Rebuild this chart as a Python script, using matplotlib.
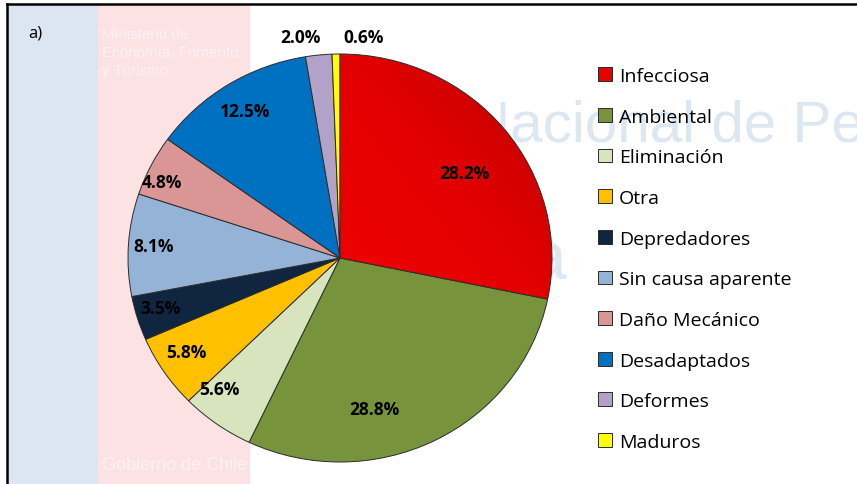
import numpy as np
import matplotlib
matplotlib.use('Agg')
import matplotlib.pyplot as plt
from matplotlib.lines import Line2D
from matplotlib.patches import Rectangle
from matplotlib.colors import LinearSegmentedColormap

# Datos del gráfico
causas = ['Infecciosa', 'Ambiental', 'Eliminación', 'Otra', 'Depredadores',
          'Sin causa aparente', 'Daño Mecánico', 'Desadaptados', 'Deformes', 'Maduros']
porcentajes = [28.2, 28.8, 5.6, 5.8, 3.5, 8.1, 4.8, 12.5, 2.0, 0.6]
colores = ['#E60000', '#77933C', '#D7E4BD', '#FFC000', '#10253F',
           '#95B3D7', '#D99694', '#0070C0', '#B3A2C7', '#FFFF00']

# Posición de las etiquetas (distancia radial y desplazamiento angular)
dist_etiq = [0.72, 0.76, 0.86, 0.86, 0.88, 0.88, 0.92, 0.85, 1.10, 1.09]
desp_etiq = [-4, -14, -6, -1.5, -1, 0, 3, 0, 4, -7]

W, H = 857, 485
fig = plt.figure(figsize=(W / 100, H / 100), dpi=100)

# Fondo (marca de agua)
bg = fig.add_axes([0, 0, 1, 1])
bg.set_xlim(0, W)
bg.set_ylim(H, 0)
bg.axis('off')
bg.add_patch(Rectangle((8, 6), 90, H, color='#DCE6F2', lw=0))
bg.add_patch(Rectangle((98, 6), 152, H, color='#FDE2E3', lw=0))
bg.text(102, 28, 'Ministerio de\nEconomía, Fomento\ny Turismo', fontsize=11, color='#FFF1F1',
        va='top', ha='left', family='Liberation Sans', linespacing=1.35)
bg.text(102, 466, 'Gobierno de Chile', fontsize=13, color='#FFF1F1', va='center', ha='left',
        family='Liberation Sans')
bg.text(468, 126, 'Nacional de Pesca', fontsize=42, color='#DCE7F2', va='center', ha='left',
        family='Liberation Sans')
bg.text(528, 262, 'a', fontsize=50, color='#DCE7F2', va='center', ha='left',
        family='Liberation Sans')
bg.text(28, 33, 'a)', fontsize=12, va='center', ha='left', family='Open Sans')
fig.add_artist(Line2D([7 / W, 1], [1 - 5 / H, 1 - 5 / H], color='black', lw=1.8))
fig.add_artist(Line2D([7 / W, 7 / W], [0, 1 - 5 / H], color='black', lw=1.8))

# Gráfico de torta
cx, cy, rx, ry = 340, 259, 212, 204
ax = fig.add_axes([(cx - rx) / W, (H - cy - ry) / H, 2 * rx / W, 2 * ry / H])
wedges, _, autotexts = ax.pie(porcentajes, colors=colores, startangle=90, counterclock=False,
                              autopct='%1.1f%%', pctdistance=0.8,
                              wedgeprops=dict(edgecolor='#2b2b2b', linewidth=0.7))
ax.set_aspect('auto')

for w, t, v, r, d in zip(wedges, autotexts, porcentajes, dist_etiq, desp_etiq):
    ang = np.deg2rad((w.theta1 + w.theta2) / 2 + d)
    t.set_position((r * np.cos(ang), r * np.sin(ang)))
    t.set_text(f'{v:.1f}%')
    t.set_fontsize(12.5)
    t.set_fontweight('bold')
    t.set_family('Open Sans')
    t.set_color('black')

leg = fig.legend(wedges, causas, loc='upper left', bbox_to_anchor=(598 / W, 1 - 68 / H),
                 frameon=False, prop={'family': 'Open Sans', 'size': 14},
                 handlelength=0.72, handleheight=0.72, handletextpad=0.35,
                 labelspacing=1.165, borderpad=0, borderaxespad=0)

# Degradado en la porción roja (más oscuro arriba a la derecha)
gx, gy = np.meshgrid(np.linspace(0, 1, 200), np.linspace(0, 1, 200))
grad = (gx + gy) / 2
cmap_rojo = LinearSegmentedColormap.from_list('rojo', ['#F20000', '#E40000', '#B80000'])
img = ax.imshow(grad, cmap=cmap_rojo, extent=(-0.05, 1.05, -0.35, 1.05), origin='lower',
                zorder=wedges[0].get_zorder() + 0.1, aspect='auto', interpolation='bilinear')
img.set_clip_path(wedges[0])
wedges[0].set_facecolor('none')
wedges[0].set_zorder(img.get_zorder() + 0.1)
ax.set_xlim(-1, 1)
ax.set_ylim(-1, 1)

fig.savefig('out.png', dpi=100)
